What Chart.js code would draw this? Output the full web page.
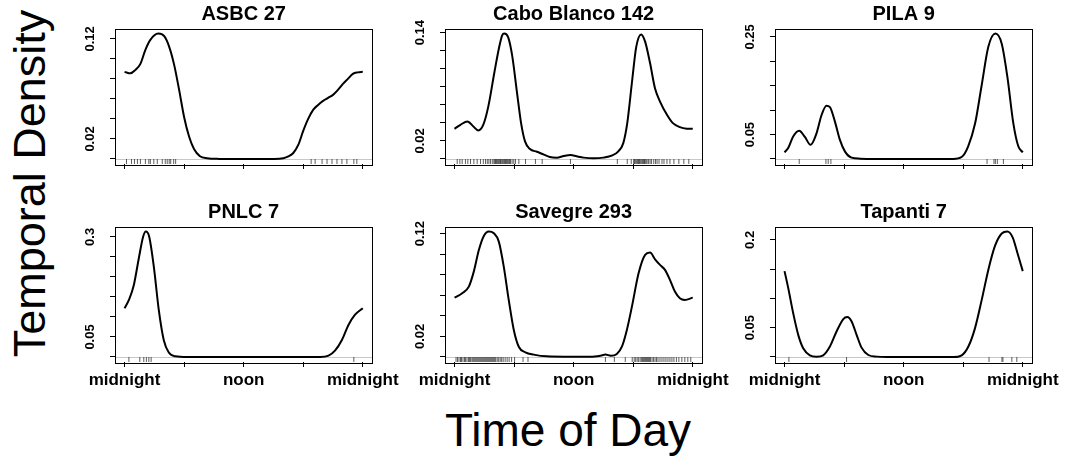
<!DOCTYPE html>
<html>
<head>
<meta charset="utf-8">
<script src="https://cdn.jsdelivr.net/npm/chart.js@4/dist/chart.umd.min.js"></script>
<style>
  body { margin: 0; background: #fff; }
  #wrap { position: relative; width: 1074px; height: 458px; overflow: hidden; font-family: "Liberation Sans", Arial, sans-serif; color: #000; }
  .panel { position: absolute; }
  #ylab { position: absolute; left: -171px; top: 160.5px; width: 400px; height: 45px; line-height: 45px; font-size: 45px; text-align: center; transform: rotate(-90deg); white-space: nowrap; }
  #xlab { position: absolute; left: 368px; top: 407px; width: 400px; height: 46px; line-height: 46px; font-size: 46px; text-align: center; white-space: nowrap; }
</style>
</head>
<body>
<div id="wrap">
  <canvas id="p0" class="panel" width="330" height="205" style="left:70px;top:0px"></canvas>
  <canvas id="p1" class="panel" width="330" height="205" style="left:400px;top:0px"></canvas>
  <canvas id="p2" class="panel" width="330" height="205" style="left:730px;top:0px"></canvas>
  <canvas id="p3" class="panel" width="330" height="205" style="left:70px;top:198px"></canvas>
  <canvas id="p4" class="panel" width="330" height="205" style="left:400px;top:198px"></canvas>
  <canvas id="p5" class="panel" width="330" height="205" style="left:730px;top:198px"></canvas>
  <div id="ylab">Temporal Density</div>
  <div id="xlab">Time of Day</div>
</div>
<script>
// x axis: hours of the day
var xTicks = [0, 6, 12, 18, 24];
var xLabels = ["midnight", "", "noon", "", "midnight"];

// ASBC 27
var asbcHours = [0, 0.6, 1.1, 1.6, 2.1, 2.6, 3.4, 4.0, 4.5, 5.0, 5.5, 6.0, 6.5, 7.0, 7.6, 8.3, 9.5, 12, 15, 16, 16.5, 17, 17.5, 18, 18.5, 19, 19.5, 20, 20.5, 21, 21.5, 22, 22.5, 23, 23.5, 24];
var asbcDens = [0.087, 0.0855, 0.089, 0.095, 0.109, 0.119, 0.1253, 0.1226, 0.112, 0.094, 0.069, 0.042, 0.0225, 0.010, 0.0027, 0.0007, 0.0001, 0, 0.0001, 0.0008, 0.0025, 0.006, 0.014, 0.028, 0.040, 0.049, 0.054, 0.058, 0.061, 0.064, 0.069, 0.075, 0.080, 0.085, 0.0865, 0.087];
var asbcRug = [0.2, 0.7, 1.0, 1.3, 1.6, 2.1, 2.45, 2.6, 2.95, 3.3, 3.8, 4.1, 4.3, 4.5, 4.65, 4.95, 5.15, 18.8, 19.2, 19.9, 20.4, 20.9, 21.4, 21.9, 22.4, 23.1, 23.4];
var asbcTicks = [0, 0.02, 0.04, 0.06, 0.08, 0.10, 0.12];
var asbcTickLabels = ["", "0.02", "", "", "", "", "0.12"];

// Cabo Blanco 142
var caboHours = [0, 0.6, 1.3, 1.9, 2.4, 2.9, 3.4, 4.0, 4.5, 4.8, 5.0, 5.4, 5.8, 6.3, 6.7, 7.1, 7.6, 8.3, 9.0, 9.6, 10.3, 11.0, 11.7, 12.3, 13.0, 14.0, 15.0, 15.9, 16.5, 17.0, 17.4, 17.9, 18.3, 18.8, 19.2, 19.7, 20.2, 20.7, 21.4, 22.0, 22.7, 23.4, 24];
var caboDens = [0.0334, 0.0379, 0.0415, 0.036, 0.0316, 0.038, 0.058, 0.095, 0.124, 0.137, 0.139, 0.135, 0.115, 0.073, 0.040, 0.0195, 0.011, 0.008, 0.0048, 0.0022, 0.0015, 0.0033, 0.0044, 0.003, 0.0015, 0.0007, 0.0015, 0.004, 0.0085, 0.0176, 0.0397, 0.0875, 0.124, 0.138, 0.130, 0.106, 0.078, 0.0636, 0.049, 0.0397, 0.0353, 0.0336, 0.0334];
var caboRug = [0.27, 0.54, 0.77, 1.1, 1.34, 1.61, 1.95, 2.28, 2.62, 2.9, 3.12, 3.3, 3.46, 3.62, 3.8, 3.96, 4.05, 4.13, 4.22, 4.3, 4.38, 4.46, 4.55, 4.63, 4.7, 4.8, 4.88, 4.97, 5.05, 5.13, 5.22, 5.3, 5.38, 5.47, 5.55, 5.64, 5.8, 5.97, 6.14, 6.48, 7.15, 8.15, 8.83, 11.68, 16.4, 17.4, 17.8, 18.05, 18.12, 18.2, 18.3, 18.4, 18.48, 18.55, 18.62, 18.7, 18.8, 18.9, 18.98, 19.06, 19.13, 19.2, 19.3, 19.4, 19.55, 19.7, 19.85, 20.07, 20.25, 20.4, 20.6, 20.9, 21.1, 21.4, 21.7, 22.1, 22.6, 23.1, 23.6];
var caboTicks = [0, 0.02, 0.04, 0.06, 0.08, 0.10, 0.12, 0.14];
var caboTickLabels = ["", "0.02", "", "", "", "", "", "0.14"];

// PILA 9
var pilaHours = [0, 0.37, 0.87, 1.48, 2.05, 2.62, 3.23, 3.73, 4.23, 4.57, 5.07, 5.58, 6.08, 6.75, 7.6, 8.9, 17, 17.84, 18.5, 19.2, 19.86, 20.53, 21.24, 21.88, 22.45, 23.05, 23.55, 24];
var pilaDens = [0.0136, 0.0224, 0.046, 0.0577, 0.045, 0.029, 0.053, 0.090, 0.1087, 0.106, 0.077, 0.039, 0.0156, 0.0027, 0.0007, 0, 0, 0.004, 0.026, 0.073, 0.151, 0.2296, 0.2568, 0.236, 0.168, 0.073, 0.026, 0.0136];
var pilaRug = [1.48, 4.17, 4.4, 4.67, 20.4, 21.1, 21.24, 21.44, 22.05];
var pilaTicks = [0, 0.05, 0.10, 0.15, 0.20, 0.25];
var pilaTickLabels = ["", "0.05", "", "", "", "0.25"];

// PNLC 7
var pnlcHours = [0, 0.44, 0.94, 1.44, 1.88, 2.15, 2.48, 2.95, 3.45, 3.95, 4.46, 5.13, 6.3, 19.7, 20.55, 21.2, 21.9, 22.56, 23.2, 24];
var pnlcDens = [0.1217, 0.1425, 0.18, 0.2467, 0.301, 0.3133, 0.301, 0.2258, 0.1175, 0.0425, 0.011, 0.0017, 0, 0, 0.0033, 0.0158, 0.0425, 0.08, 0.105, 0.1217];
var pnlcRug = [0.44, 1.54, 1.94, 2.2, 2.45, 2.68, 23.1];
var pnlcTicks = [0, 0.05, 0.10, 0.15, 0.20, 0.25, 0.30];
var pnlcTickLabels = ["", "0.05", "", "", "", "", "0.3"];

// Savegre 293
var savHours = [0, 0.77, 1.44, 1.94, 2.45, 2.95, 3.45, 3.96, 4.46, 4.96, 5.46, 5.97, 6.47, 7.14, 7.98, 9.3, 11, 13.7, 14.7, 15.2, 15.75, 16.35, 16.86, 17.36, 17.87, 18.54, 19.2, 19.7, 20.2, 20.7, 21.2, 21.7, 22.2, 22.7, 23.2, 24];
var savDens = [0.0577, 0.062, 0.0684, 0.083, 0.104, 0.1177, 0.122, 0.1203, 0.1122, 0.0879, 0.0555, 0.0263, 0.010, 0.0045, 0.0023, 0.0006, 0.0003, 0.0003, 0.0013, 0.0023, 0.0013, 0.003, 0.010, 0.0263, 0.049, 0.0814, 0.0993, 0.1015, 0.095, 0.0895, 0.0847, 0.075, 0.0636, 0.0571, 0.0555, 0.0577];
var savRug = [0.15, 0.3, 0.45, 0.6, 0.7, 0.85, 1.0, 1.1, 1.25, 1.4, 1.5, 1.6, 1.75, 1.85, 1.95, 2.05, 2.15, 2.25, 2.35, 2.45, 2.55, 2.65, 2.75, 2.85, 2.95, 3.05, 3.15, 3.25, 3.35, 3.45, 3.55, 3.65, 3.75, 3.85, 3.95, 4.05, 4.15, 4.3, 4.45, 4.6, 4.75, 4.9, 5.1, 5.3, 5.5, 5.75, 6.05, 6.9, 7.4, 15.2, 16.1, 17.2, 17.9, 18.1, 18.25, 18.4, 18.55, 18.7, 18.85, 18.95, 19.05, 19.15, 19.25, 19.35, 19.45, 19.55, 19.65, 19.75, 19.9, 20.05, 20.2, 20.35, 20.5, 20.7, 20.9, 21.1, 21.3, 21.5, 21.7, 21.9, 22.1, 22.35, 22.6, 22.9, 23.2, 23.5, 23.8];
var savTicks = [0, 0.02, 0.04, 0.06, 0.08, 0.10, 0.12];
var savTickLabels = ["", "0.02", "", "", "", "", "0.12"];

// Tapanti 7
var tapHours = [0, 0.37, 0.87, 1.38, 1.88, 2.55, 3.23, 3.9, 4.57, 5.24, 5.92, 6.32, 6.76, 7.26, 7.76, 8.44, 9.28, 10.3, 17, 17.85, 18.52, 19.19, 19.87, 20.54, 21.2, 21.88, 22.45, 22.99, 23.5, 24];
var tapDens = [0.1467, 0.118, 0.075, 0.0378, 0.0149, 0.0029, 0.0006, 0.0029, 0.0178, 0.0436, 0.0648, 0.0682, 0.0607, 0.0378, 0.016, 0.0034, 0.0006, 0, 0, 0.0029, 0.0178, 0.0493, 0.098, 0.1496, 0.1897, 0.2109, 0.2143, 0.204, 0.1754, 0.1467];
var tapRug = [0.44, 6.25, 20.6, 21.9, 22.0, 22.9, 23.4];
var tapTicks = [0, 0.05, 0.10, 0.15, 0.20];
var tapTickLabels = ["", "0.05", "", "", "0.2"];

Chart.defaults.font.family = '"Liberation Sans", Arial, sans-serif';
Chart.defaults.color = "#000";

// box around the plot region and grey zero line
var frame = {
  id: "frame",
  beforeDatasetsDraw: function (chart) {
    var a = chart.chartArea, ctx = chart.ctx;
    var y0 = Math.round(chart.scales.y.getPixelForValue(0)) + 0.5;
    ctx.save();
    ctx.strokeStyle = "#c8c8c8";
    ctx.lineWidth = 1;
    ctx.beginPath();
    ctx.moveTo(a.left, y0);
    ctx.lineTo(a.right, y0);
    ctx.stroke();
    ctx.restore();
  },
  afterDraw: function (chart) {
    var a = chart.chartArea, ctx = chart.ctx;
    ctx.save();
    ctx.strokeStyle = "#000";
    ctx.lineWidth = 1;
    ctx.strokeRect(Math.round(a.left) + 0.5, Math.round(a.top) + 0.5, Math.round(a.right - a.left), Math.round(a.bottom - a.top));
    ctx.restore();
  }
};

function makePanel(id, title, hours, dens, rug, yTicks, yLabels, showX) {
  var ymax = Math.max.apply(null, dens);
  var curve = hours.map(function (h, i) { return { x: h, y: dens[i] }; });
  var rugPts = rug.map(function (h) { return { x: h, y: -0.02 * ymax }; });

  new Chart(document.getElementById(id), {
    type: "line",
    data: {
      datasets: [
        {
          data: curve,
          borderColor: "#000",
          borderWidth: 2,
          pointRadius: 0,
          fill: false,
          cubicInterpolationMode: "monotone"
        },
        {
          data: rugPts,
          showLine: false,
          pointStyle: "line",
          rotation: 90,
          pointRadius: 2.5,
          borderColor: "rgba(40,40,40,0.75)",
          borderWidth: 1
        }
      ]
    },
    options: {
      responsive: false,
      animation: false,
      devicePixelRatio: 1,
      events: [],
      layout: { padding: { left: 0, right: 27.7, top: 0, bottom: 0 } },
      plugins: {
        legend: { display: false },
        tooltip: { enabled: false },
        title: {
          display: true,
          text: title,
          fullSize: false,
          color: "#000",
          font: { size: 20, weight: "bold" },
          padding: { top: 2, bottom: 2.5 }
        }
      },
      scales: {
        x: {
          type: "linear",
          min: -0.96,
          max: 24.96,
          afterBuildTicks: function (s) { s.ticks = xTicks.map(function (v) { return { value: v }; }); },
          afterFit: function (s) { s.height = 41; s.paddingLeft = 0; s.paddingRight = 0; },
          ticks: {
            autoSkip: false,
            maxRotation: 0,
            padding: 3.6,
            font: { size: 17, weight: "bold" },
            color: "#000",
            callback: function (v, i) { return showX ? xLabels[i] : ""; }
          },
          grid: { drawOnChartArea: false, drawTicks: true, tickLength: 5, color: "#000", lineWidth: 1 },
          border: { display: false }
        },
        y: {
          type: "linear",
          min: -0.04 * ymax,
          max: 1.04 * ymax,
          afterBuildTicks: function (s) { s.ticks = yTicks.map(function (v) { return { value: v }; }); },
          afterFit: function (s) { s.width = 45; s.paddingTop = 0; s.paddingBottom = 0; },
          ticks: {
            autoSkip: false,
            minRotation: 90,
            maxRotation: 90,
            crossAlign: "center",
            padding: 7.3,
            font: { size: 13, weight: "bold" },
            color: "#000",
            callback: function (v, i) { return yLabels[i]; }
          },
          grid: { drawOnChartArea: false, drawTicks: true, tickLength: 5, color: "#000", lineWidth: 1 },
          border: { display: false }
        }
      }
    },
    plugins: [frame]
  });
}

makePanel("p0", "ASBC 27", asbcHours, asbcDens, asbcRug, asbcTicks, asbcTickLabels, false);
makePanel("p1", "Cabo Blanco 142", caboHours, caboDens, caboRug, caboTicks, caboTickLabels, false);
makePanel("p2", "PILA 9", pilaHours, pilaDens, pilaRug, pilaTicks, pilaTickLabels, false);
makePanel("p3", "PNLC 7", pnlcHours, pnlcDens, pnlcRug, pnlcTicks, pnlcTickLabels, true);
makePanel("p4", "Savegre 293", savHours, savDens, savRug, savTicks, savTickLabels, true);
makePanel("p5", "Tapanti 7", tapHours, tapDens, tapRug, tapTicks, tapTickLabels, true);
</script>
</body>
</html>
